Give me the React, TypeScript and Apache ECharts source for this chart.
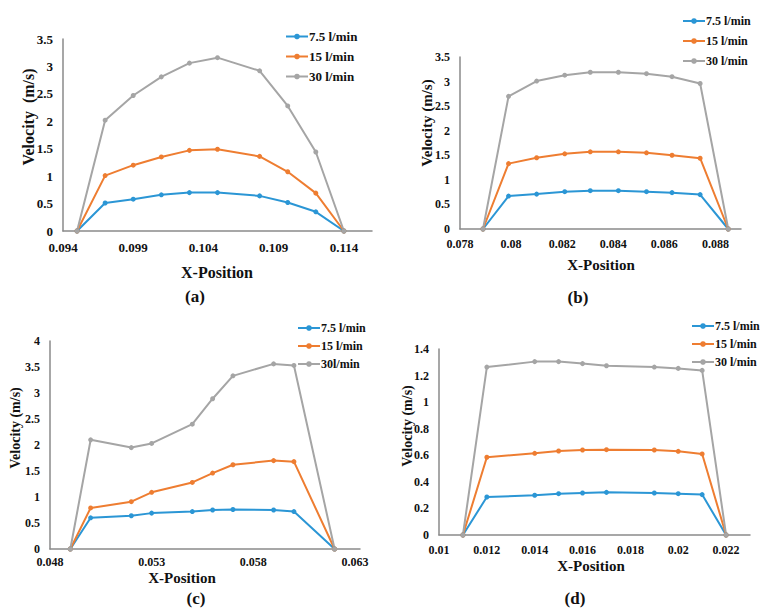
import React, { useEffect, useRef } from "react";
import * as echarts from "echarts";

const seriesNames = ["7.5 l/min", "15 l/min", "30 l/min"];
const seriesNamesC = ["7.5 l/min", "15 l/min", "30l/min"];
const colors = ["#2b96d5", "#ee7d31", "#a5a5a5"];

// Panel (a)
const xA = [0.095, 0.097, 0.099, 0.101, 0.103, 0.105, 0.108, 0.110, 0.112, 0.114];
const a75 = [0, 0.51, 0.58, 0.66, 0.70, 0.70, 0.64, 0.52, 0.35, 0];
const a15 = [0, 1.01, 1.20, 1.35, 1.47, 1.49, 1.36, 1.08, 0.69, 0];
const a30 = [0, 2.02, 2.47, 2.81, 3.06, 3.16, 2.92, 2.28, 1.44, 0];

// Panel (b)
const xB = [0.0789, 0.0799, 0.0810, 0.0821, 0.0831, 0.0842, 0.0853, 0.0863, 0.0874, 0.0885];
const b75 = [0, 0.67, 0.71, 0.76, 0.78, 0.78, 0.76, 0.74, 0.70, 0];
const b15 = [0, 1.33, 1.45, 1.53, 1.57, 1.57, 1.55, 1.50, 1.44, 0];
const b30 = [0, 2.70, 3.01, 3.13, 3.19, 3.19, 3.16, 3.10, 2.96, 0];

// Panel (c)
const xC = [0.049, 0.050, 0.052, 0.053, 0.055, 0.056, 0.057, 0.059, 0.060, 0.062];
const c75 = [0, 0.60, 0.64, 0.69, 0.72, 0.75, 0.76, 0.75, 0.72, 0];
const c15 = [0, 0.79, 0.91, 1.09, 1.28, 1.46, 1.62, 1.70, 1.68, 0];
const c30 = [0, 2.10, 1.95, 2.03, 2.40, 2.89, 3.33, 3.56, 3.53, 0];

// Panel (d)
const xD = [0.011, 0.012, 0.014, 0.015, 0.016, 0.017, 0.019, 0.020, 0.021, 0.022];
const d75 = [0, 0.286, 0.299, 0.311, 0.316, 0.321, 0.316, 0.311, 0.304, 0];
const d15 = [0, 0.585, 0.615, 0.632, 0.640, 0.642, 0.640, 0.630, 0.610, 0];
const d30 = [0, 1.264, 1.305, 1.305, 1.290, 1.274, 1.264, 1.254, 1.239, 0];

const FONT = "Liberation Serif, serif";

export default function App() {
  const ref = useRef<HTMLDivElement>(null);
  useEffect(() => {
    if (!ref.current) return;
    const chart = echarts.init(ref.current, null, { renderer: "svg" });

    const panels = [
      { x: xA, ys: [a75, a15, a30], names: seriesNames, grid: { left: 63, top: 39, width: 309, height: 192 }, xmin: 0.094, xmax: 0.116, xint: 0.005, ymax: 3.5, yint: 0.5, fs: 13, xm: 10 },
      { x: xB, ys: [b75, b15, b30], names: seriesNames, grid: { left: 460, top: 57, width: 281, height: 172 }, xmin: 0.078, xmax: 0.089, xint: 0.002, ymax: 3.5, yint: 0.5, fs: 12, xm: 9 },
      { x: xC, ys: [c75, c15, c30], names: seriesNamesC, grid: { left: 50, top: 341, width: 310, height: 208 }, xmin: 0.048, xmax: 0.06325, xint: 0.005, ymax: 4, yint: 0.5, fs: 12, xm: 7 },
      { x: xD, ys: [d75, d15, d30], names: seriesNames, grid: { left: 439, top: 349, width: 311, height: 186 }, xmin: 0.01, xmax: 0.023, xint: 0.002, ymax: 1.4, yint: 0.2, fs: 12, xm: 9 },
    ];

    const fmt = (v: number) => String(+v.toFixed(4));
    const axisLine = { show: true, lineStyle: { color: "#8a8a8a", width: 1.5 } };

    const grid = panels.map((p) => p.grid);
    const xAxis = panels.map((p, i) => ({
      type: "value", gridIndex: i, min: p.xmin, max: p.xmax, interval: p.xint,
      axisLine, axisTick: { show: false }, splitLine: { show: false },
      axisLabel: { showMaxLabel: false, formatter: fmt, color: "#111", fontFamily: FONT, fontWeight: "bold", fontSize: p.fs, margin: p.xm },
    }));
    const yAxis = panels.map((p, i) => ({
      type: "value", gridIndex: i, min: 0, max: p.ymax, interval: p.yint,
      axisLine, axisTick: { show: false }, splitLine: { show: false },
      axisLabel: { formatter: fmt, color: "#111", fontFamily: FONT, fontWeight: "bold", fontSize: p.fs, margin: 10 },
    }));
    const series: any[] = [];
    panels.forEach((p, i) => {
      p.ys.forEach((ys, k) => {
        series.push({
          type: "line", name: p.names[k], xAxisIndex: i, yAxisIndex: i,
          data: p.x.map((xv, j) => [xv, ys[j]]),
          symbol: "circle", symbolSize: 5, color: colors[k],
          lineStyle: { width: 2, color: colors[k] }, itemStyle: { color: colors[k] },
        });
      });
    });

    const legendPos = [
      { left: 280, top: 25, gap: 7, fs: 13 },
      { left: 677, top: 10, gap: 8, fs: 12 },
      { left: 292, top: 317, gap: 6, fs: 12 },
      { left: 686, top: 315, gap: 6, fs: 12 },
    ];
    const legend = legendPos.map((l, i) => ({
      left: l.left, top: l.top, orient: "vertical", itemGap: l.gap, itemWidth: 22, itemHeight: 7,
      data: panels[i].names.map((n) => ({ name: n })),
      textStyle: { fontFamily: FONT, fontWeight: "bold", fontSize: l.fs, color: "#111", padding: [0, 0, 0, -4] },
      selectedMode: false,
    }));

    const txt = (x: number, y: number, text: string, fs: number, rot = 0) => ({
      type: "text", x, y, rotation: rot,
      style: { text, fontFamily: FONT, fontWeight: "bold", fontSize: fs, fill: "#111", align: "center", verticalAlign: "middle" },
    });
    const graphic = [
      txt(217, 272, "X-Position", 16),
      txt(601, 265, "X-Position", 15),
      txt(182, 578, "X-Position", 15),
      txt(591, 566, "X-Position", 15),
      txt(28, 117, "Velocity  (m/s)", 16, Math.PI / 2),
      txt(427, 123, "Velocity (m/s)", 15, Math.PI / 2),
      txt(15, 428, "Velocity (m/s)", 14, Math.PI / 2),
      txt(407, 426, "Velocity (m/s)", 14, Math.PI / 2),
      txt(195, 296, "(a)", 17),
      txt(578, 297, "(b)", 17),
      txt(196, 598, "(c)", 17),
      txt(575, 598, "(d)", 17),
    ];

    chart.setOption({
      animation: false,
      backgroundColor: "#fff",
      grid, xAxis, yAxis, series, legend, graphic,
    });
    return () => chart.dispose();
  }, []);
  return <div ref={ref} style={{ position: "fixed", left: 0, top: 0, width: 761, height: 615 }} />;
}
